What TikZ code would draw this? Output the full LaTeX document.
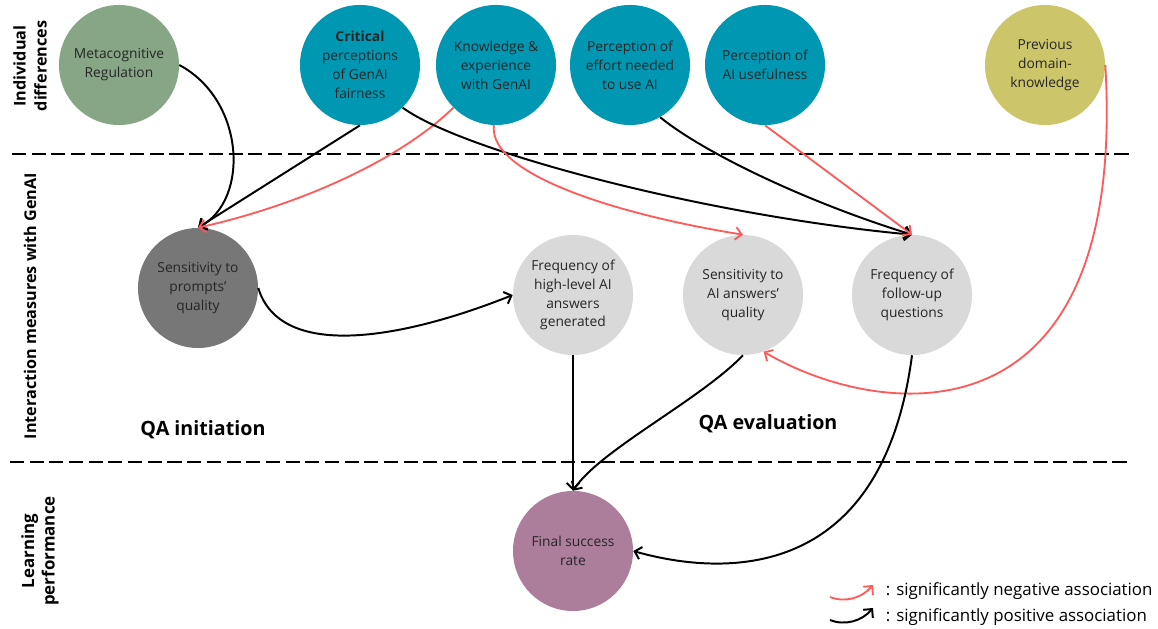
\documentclass[tikz,border=0pt]{standalone}
\usepackage{fontspec}
\setmainfont{Open Sans}
\usetikzlibrary{arrows.meta}

\definecolor{sage}{HTML}{87A686}
\definecolor{teal2}{HTML}{0097B2}
\definecolor{olive2}{HTML}{CDC56A}
\definecolor{darkgrey}{HTML}{777777}
\definecolor{lightgrey}{HTML}{D9D9D9}
\definecolor{mauve}{HTML}{AC7E9B}
\definecolor{negred}{HTML}{FF5A5A}

\begin{document}
\begin{tikzpicture}[x=0.025cm,y=-0.025cm,
    >={Straight Barb[length=4.5pt,width=9pt]},
    factor/.style={circle,minimum size=3cm,inner sep=0pt,align=center,text=black!85,font=\fontsize{9.8}{13.4}\selectfont},
    posarrow/.style={->,line width=1.4pt,black},
    negarrow/.style={->,line width=1.3pt,negred},
    rowlabel/.style={rotate=90,align=center,font=\bfseries\fontsize{11.5}{15}\selectfont},
    sep/.style={line width=1.4pt,dash pattern=on 10pt off 4pt}]
        \useasboundingbox (0,0) rectangle (1158,629);

        % Separators
        \draw[sep] (12,154) -- (1133,154);
        \draw[sep] (10,462) -- (1130,462);

        % Row labels
        \node[rowlabel] (rowind) at (30,66) {Individual\\differences};
        \node[rowlabel] (rowint) at (30,306) {Interaction measures with GenAI};
        \node[rowlabel,font=\bfseries\fontsize{12}{14.5}\selectfont] (rowlearn) at (40,551) {Learning\\performance};

        % Individual differences
        \node[factor,fill=sage] (meta) at (119,65) {Metacognitive\\Regulation};
        \node[factor,fill=teal2] (crit) at (360,65) {\textbf{Critical}\\perceptions\\of GenAI\\fairness};
        \node[factor,fill=teal2] (know) at (496,65) {Knowledge \&\\experience\\with GenAI};
        \node[factor,fill=teal2] (effort) at (630,65) {Perception of\\effort needed\\to use AI};
        \node[factor,fill=teal2] (useful) at (765,65) {Perception of\\AI usefulness};
        \node[factor,fill=olive2] (prev) at (1045,65) {Previous\\domain-\\knowledge};

        % Interaction measures
        \node[factor,fill=darkgrey] (sensP) at (198,288) {Sensitivity to\\prompts'\\quality};
        \node[factor,fill=lightgrey] (freqH) at (573,295) {Frequency of\\high-level AI\\answers\\generated};
        \node[factor,fill=lightgrey] (sensA) at (743,295) {Sensitivity to\\AI answers'\\quality};
        \node[factor,fill=lightgrey] (follow) at (912,295) {Frequency of\\follow-up\\questions};

        % Learning performance
        \node[factor,fill=mauve] (final) at (573,551) {Final success\\rate};

        % Phase titles
        \node[font=\bfseries\fontsize{14}{16}\selectfont] (qainit) at (203,430) {QA initiation};
        \node[font=\bfseries\fontsize{14}{16}\selectfont] (qaeval) at (768,424) {QA evaluation};

        % Arrows into sensitivity to prompts
        \draw[posarrow] (meta.east) .. controls (245,100) and (250,200) .. (sensP.north);
        \draw[posarrow] (crit.south) -- (sensP.north);
        \draw[negarrow] (know.225) .. controls (400,160) and (300,205) .. (sensP.north);

        % Arrows into follow-up questions
        \draw[posarrow] (crit.-45) .. controls (460,150) and (700,215) .. (follow.north);
        \draw[posarrow] (effort.-60) .. controls (700,150) and (800,200) .. (follow.north);
        \draw[negarrow] (useful.south) -- (follow.north);

        % Arrows into sensitivity to AI answers
        \draw[negarrow] (know.-92) .. controls (488,175) and (620,215) .. (sensA.north);
        \draw[negarrow] (prev.east) .. controls (1128,450) and (880,420) .. (sensA.-70);

        % Between interaction measures
        \draw[posarrow] (sensP.east) .. controls (280,360) and (400,340) .. (freqH.west);

        % Arrows into final success rate
        \draw[posarrow] (freqH.south) -- (final.north);
        \draw[posarrow] (sensA.south) .. controls (700,400) and (600,450) .. (final.north);
        \draw[posarrow] (follow.south) .. controls (880,600) and (700,570) .. (final.east);

        % Legend
        \coordinate (negA) at (830,597);
        \coordinate (negB) at (873,585);
        \coordinate (posA) at (830,620);
        \coordinate (posB) at (873,608);
        \draw[negarrow] (negA) .. controls (845,603) and (862,598) .. (negB);
        \draw[posarrow] (posA) .. controls (845,626) and (862,621) .. (posB);
        \node[anchor=west,font=\fontsize{12}{14}\selectfont] (negtext) at (881,591) {: significantly negative association};
        \node[anchor=west,font=\fontsize{12}{14}\selectfont] (postext) at (881,617) {: significantly positive association};
      \end{tikzpicture}
\end{document}
